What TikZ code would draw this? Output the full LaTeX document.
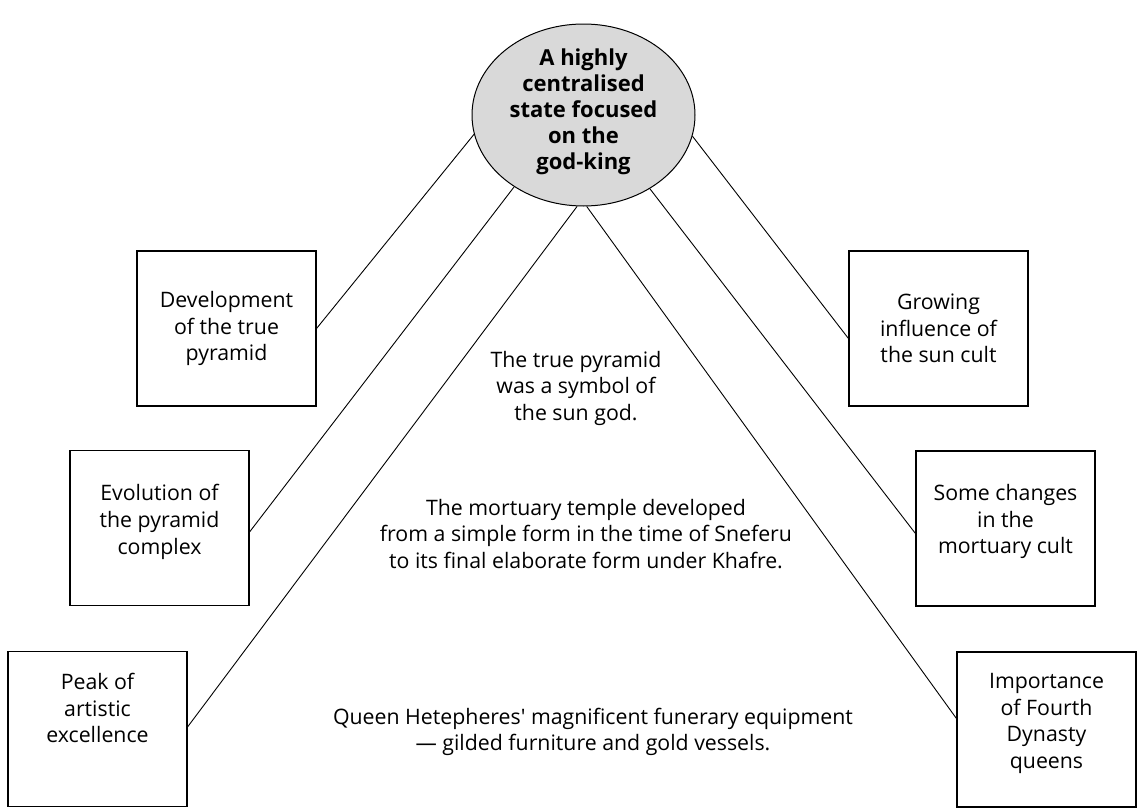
\documentclass[tikz,border=0pt]{standalone}
\usepackage{fontspec}
\setmainfont{Open Sans}
\usetikzlibrary{shapes.geometric,positioning}

\tikzset{
  mainidea/.style={ellipse, draw, line width=1pt, fill=black!15, minimum width=223pt, minimum height=182pt, inner sep=0pt},
  titletext/.style={align=center, font=\bfseries\fontsize{22}{26}\selectfont},
  topicbox/.style={draw, line width=1.1pt, minimum width=179pt, minimum height=155pt, inner sep=0pt},
  boxtext/.style={align=center, font=\fontsize{21.3}{26.7}\selectfont},
  note/.style={align=center, font=\fontsize{21.3}{26.5}\selectfont},
  link/.style={line width=0.9pt}
}

\begin{document}
\begin{tikzpicture}[x=1pt, y=-1pt]
    % 画布
    \useasboundingbox (0,0) rectangle (1141,809);

    % 中心椭圆
    \node[mainidea] (state) at (583.5,115) {};
    \node[titletext] (statetext) at ([yshift=3pt]state.center) {A highly\\centralised\\state focused\\on the\\god-king};

    % 左侧方框
    \node[topicbox] (devel) at (226.5,328.5) {};
    \node[boxtext] at (devel.center) {Development\\of the true\\pyramid};
    \node[topicbox] (evol) at (159.5,528) {};
    \node[boxtext] at ([yshift=6pt]evol.center) {Evolution of\\the pyramid\\complex};
    \node[topicbox] (peak) at (97.5,729) {};
    \node[boxtext] at ([yshift=21pt]peak.center) {Peak of\\artistic\\excellence};

    % 右侧方框
    \node[topicbox] (grow) at (938.5,328.5) {};
    \node[boxtext] at (grow.center) {Growing\\influence of\\the sun cult};
    \node[topicbox] (some) at (1005.5,528.5) {};
    \node[boxtext] at ([yshift=7pt]some.center) {Some changes\\in the\\mortuary cult};
    \node[topicbox] (imp) at (1046.5,729.5) {};
    \node[boxtext] at ([yshift=6pt]imp.center) {Importance\\of Fourth\\Dynasty\\queens};

    % 连线
    \draw[link] (state.190) -- (devel.east);
    \draw[link] (state.226) -- ([yshift=-4pt]evol.east);
    \draw[link] (state.266) -- ([yshift=2pt]peak.east);
    \draw[link] (state.272) -- ([yshift=11pt]imp.west);
    \draw[link] (state.312) -- ([yshift=-5pt]some.west);
    \draw[link] (state.349) -- ([yshift=-10pt]grow.west);

    % 中间说明
    \node[note] (sunnote) at (576,388) {The true pyramid\\was a symbol of\\the sun god.};
    \node[note] (templenote) at (586,534) {The mortuary temple developed\\from a simple form in the time of Sneferu\\to its final elaborate form under Khafre.};
    \node[note] (queennote) at (593,732) {Queen Hetepheres\textquotesingle{} magnificent funerary equipment\\— gilded furniture and gold vessels.};
\end{tikzpicture}
\end{document}
